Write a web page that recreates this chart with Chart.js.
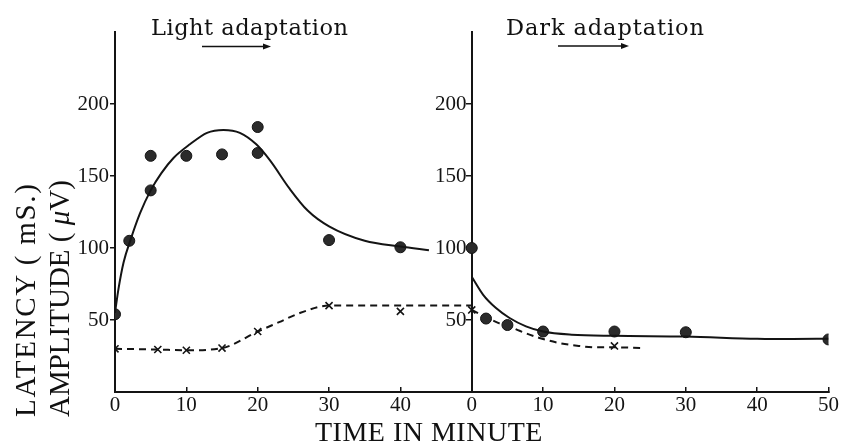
<!DOCTYPE html>
<html>
<head>
<meta charset="utf-8">
<script src="https://cdn.jsdelivr.net/npm/chart.js@4.4.1/dist/chart.umd.min.js"></script>
<style>
  body { margin: 0; background: #fff; }
  #wrap { position: relative; width: 845px; height: 444px; overflow: hidden; background: #fff; }
  #wrap canvas { position: absolute; left: 0; top: 0; }
  .label { position: absolute; white-space: nowrap; color: #111; }
  .head { font-family: "DejaVu Serif", serif; font-size: 22.5px; line-height: 22.5px; top: 16px; }
  #lightHead { left: 151px; letter-spacing: 0.5px; }
  #darkHead { left: 506px; letter-spacing: 0.9px; }
  #xTitle { font-family: "Liberation Serif", serif; font-size: 28px; line-height: 28px; left: 315px; top: 418px; letter-spacing: 0.5px; }
  #yTitle { font-family: "Liberation Serif", serif; font-size: 29px; line-height: 34px; left: 8px; top: 417px; transform-origin: 0 0; transform: rotate(-90deg); }
  #yTitle .l1 { letter-spacing: 1.7px; }
  #arrows { position: absolute; left: 0; top: 0; }
</style>
</head>
<body>
<div id="wrap">
  <canvas id="chart" width="845" height="444"></canvas>
  <div class="label head" id="lightHead">Light adaptation</div>
  <div class="label head" id="darkHead">Dark adaptation</div>
  <svg id="arrows" width="845" height="60">
    <line x1="202" y1="46.5" x2="265" y2="46.5" stroke="#111" stroke-width="1.5"/>
    <polygon points="271,46.5 263,43.5 263,49.5" fill="#111"/>
    <line x1="558" y1="46" x2="623" y2="46" stroke="#111" stroke-width="1.5"/>
    <polygon points="629,46 621,43 621,49" fill="#111"/>
  </svg>
  <div class="label" id="xTitle">TIME IN MINUTE</div>
  <div class="label" id="yTitle"><span class="l1">LATENCY ( mS.)</span><br>AMPLITUDE ( <i>μ</i>V)</div>
</div>
<script>
// tick labels on each panel
const lightTicks = [0, 10, 20, 30, 40];
const darkTicks = [0, 10, 20, 30, 40, 50];
const amplitudeTicks = [50, 100, 150, 200];

// light adaptation: amplitude (dots) and latency (crosses)
const lightAmpTime = [0, 2, 5, 5, 10, 15, 20, 20, 30, 40];
const lightAmp = [54, 105, 140, 164, 164, 165, 184, 166, 105.5, 100.5];
const lightLatTime = [0, 6, 10, 15, 20, 30, 40];
const lightLat = [30, 29.5, 29, 30.5, 42, 60, 56];

// freehand curves drawn through the light adaptation data
const lightAmpCurveTime = [0, 0.5, 1.2, 2.2, 3.5, 5, 6.5, 8.2, 10.5, 12.9, 15.2, 17.5, 19.8, 21.7, 24.5, 27, 30, 35, 40, 44];
const lightAmpCurve = [55, 72, 90, 106, 124, 140, 152, 162.5, 172, 180, 182, 180, 172, 161, 141, 126, 115, 105, 101, 98.5];
const lightLatCurveTime = [0, 6, 10, 15, 20, 23, 26, 30, 40, 50];
const lightLatCurve = [30, 29.5, 29, 30.5, 42, 48.5, 55, 60, 60, 60];

// dark adaptation
const darkAmpTime = [0, 2, 5, 10, 20, 30, 50];
const darkAmp = [100, 51, 46.5, 42, 42, 41.5, 36.5];
const darkLatTime = [0, 20];
const darkLat = [57, 32];

const darkAmpCurveTime = [0, 1.6, 3.4, 5.3, 7.6, 10, 14, 20, 30, 40, 45, 50];
const darkAmpCurve = [80, 67.5, 58.3, 51.4, 45.6, 42, 39.8, 39, 38.5, 37, 36.8, 37];
const darkLatCurveTime = [0, 2, 3.7, 5.3, 6.7, 9.5, 12.3, 15, 17.5, 20, 24];
const darkLatCurve = [57, 52, 48, 45.5, 42.5, 37.5, 34, 32, 31, 31, 30.5];

const ink = '#141414';
const serif = 'Liberation Serif';

function pts(xs, ys) {
    return xs.map((x, i) => ({ x: x, y: ys[i] }));
}

function curve(xs, ys, axis, dash) {
    return {
        data: pts(xs, ys),
        xAxisID: axis,
        showLine: true,
        pointRadius: 0,
        borderColor: ink,
        borderWidth: 2,
        borderDash: dash,
        cubicInterpolationMode: 'monotone',
        tension: 0.4
    };
}

function dots(xs, ys, axis) {
    return {
        data: pts(xs, ys),
        xAxisID: axis,
        pointStyle: 'circle',
        pointRadius: 5.5,
        backgroundColor: '#2b2b2b',
        borderColor: ink,
        borderWidth: 1
    };
}

function crosses(xs, ys, axis) {
    return {
        data: pts(xs, ys),
        xAxisID: axis,
        pointStyle: 'crossRot',
        pointRadius: 5,
        borderColor: ink,
        borderWidth: 1.6
    };
}

function amplitudeAxis(extra) {
    return Object.assign({
        type: 'linear',
        min: 0,
        max: 250,
        afterBuildTicks: s => { s.ticks = amplitudeTicks.map(v => ({ value: v })); },
        border: { color: ink, width: 2 },
        grid: { drawOnChartArea: false, tickLength: 5, color: ink, lineWidth: 1.5 },
        ticks: { padding: 1, color: ink, font: { family: serif, size: 21 } }
    }, extra);
}

new Chart(document.getElementById('chart'), {
    type: 'scatter',
    data: {
        datasets: [
            curve(lightAmpCurveTime, lightAmpCurve, 'x', []),
            dots(lightAmpTime, lightAmp, 'x'),
            curve(lightLatCurveTime, lightLatCurve, 'x', [7, 5]),
            crosses(lightLatTime, lightLat, 'x'),
            curve(darkAmpCurveTime, darkAmpCurve, 'xDark', []),
            dots(darkAmpTime, darkAmp, 'xDark'),
            curve(darkLatCurveTime, darkLatCurve, 'xDark', [7, 5]),
            crosses(darkLatTime, darkLat, 'xDark')
        ]
    },
    options: {
        responsive: false,
        animation: false,
        layout: { padding: { top: 32, right: 14, left: 0, bottom: 0 } },
        plugins: { legend: { display: false }, tooltip: { enabled: false } },
        scales: {
            // one axis carries both panels: 0-50 light, 50-100 dark
            x: {
                type: 'linear',
                position: 'bottom',
                min: 0,
                max: 100,
                afterBuildTicks: s => {
                    s.ticks = lightTicks.map(v => ({ value: v }))
                        .concat(darkTicks.map(v => ({ value: v + 50 })));
                },
                afterFit: s => { s.height = 52; },
                border: { color: ink, width: 2 },
                grid: { drawOnChartArea: false, tickLength: -5, color: ink, lineWidth: 1.5 },
                ticks: {
                    autoSkip: false,
                    maxRotation: 0,
                    padding: 6,
                    color: ink,
                    font: { family: serif, size: 21 },
                    callback: v => (v < 50 ? v : v - 50)
                }
            },
            xDark: { type: 'linear', position: 'bottom', min: -50, max: 50, display: false },
            y: amplitudeAxis({
                position: 'left',
                afterFit: s => { s.width = 115; }
            }),
            // the dark panel's axis sits at x = 50; its labels get a trailing
            // space so they clear the tick marks
            y2: amplitudeAxis({
                position: { x: 50 },
                ticks: {
                    padding: 1,
                    color: ink,
                    font: { family: serif, size: 21 },
                    callback: v => v + ' '
                }
            })
        }
    }
});
</script>
</body>
</html>
